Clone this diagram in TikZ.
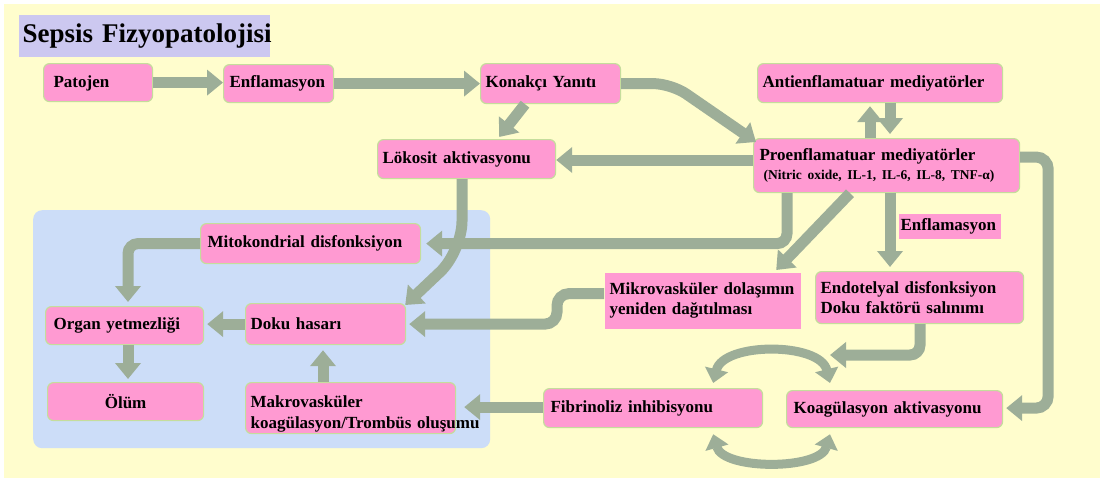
\documentclass[tikz,border=0pt]{standalone}
\usepackage{fontspec}
\setmainfont{Liberation Serif}
\usetikzlibrary{arrows.meta,calc}
\hyphenpenalty=10000
\exhyphenpenalty=10000
\frenchspacing
\definecolor{bgy}{HTML}{FFFDCD}
\definecolor{panelc}{HTML}{CCDDF8}
\definecolor{titlec}{HTML}{CCC8F0}
\definecolor{pinkc}{HTML}{FF9AD2}
\definecolor{arrc}{HTML}{9DAE98}
\definecolor{bord}{HTML}{C5DD9C}
\tikzset{
  box/.style={draw=bord, line width=1.2pt, fill=pinkc, rounded corners=6pt,
    anchor=north west, inner xsep=6pt, inner ysep=0pt, align=left,
    font=\fontsize{17}{20.5}\selectfont\bfseries\frenchspacing},
  sqbox/.style={box, draw=none, rounded corners=0pt},
  arr/.style={draw=arrc, line width=11pt, -{Triangle[width=25pt,length=16pt]}},
  arrtwo/.style={draw=arrc, line width=9pt, {Triangle[width=23pt,length=14pt]}-{Triangle[width=23pt,length=14pt]}}
}
\begin{document}
\begin{tikzpicture}[x=1pt,y=-1pt]
\useasboundingbox (0,0) rectangle (1107,482);
\fill[white] (0,0) rectangle (1107,482);
\fill[bgy] (4,4) rectangle (1100,478);
\node[fill=panelc, rounded corners=9pt, anchor=north west, minimum width=457pt, minimum height=238pt, inner sep=0pt] (panel) at (33,210) {};
\node[sqbox, fill=titlec, minimum width=251pt, minimum height=42pt, text width=243pt, inner xsep=4pt, font=\fontsize{27}{30}\selectfont\bfseries] (title) at (18,14) {\mbox{Sepsis Fizyopatolojisi}};

\node[box, minimum width=109pt, minimum height=38pt, text width=89pt, inner xsep=10pt] (pat) at (43,63) {\rule{0pt}{14pt}Patojen};
\node[box, minimum width=110pt, minimum height=38pt, text width=98pt] (enf) at (223,64) {Enflamasyon};
\node[box, minimum width=140pt, minimum height=40pt, text width=130pt, inner xsep=5pt] (kon) at (480,63) {\mbox{Konakçı Yanıtı}};
\node[box, minimum width=245pt, minimum height=39pt, text width=235pt, inner xsep=5pt] (anti) at (757,63) {\mbox{Antienflamatuar mediyatörler}};
\node[box, minimum width=178pt, minimum height=39pt, text width=168pt, inner xsep=5pt] (lok) at (377,139) {\mbox{Lökosit aktivasyonu}};
\node[box, minimum width=266pt, minimum height=54pt, text width=254pt] (pro) at (753,138) {\mbox{Proenflamatuar mediyatörler}\\[-1pt]\hspace*{4pt}{\fontsize{13.5}{16}\selectfont\mbox{(Nitric oxide, IL-1, IL-6, IL-8, TNF-α)}}};
\node[sqbox, minimum width=102pt, minimum height=25pt, text width=98pt, inner xsep=2pt] (enfl) at (898,213) {Enflamasyon};

\node[box, minimum width=220pt, minimum height=40pt, text width=206pt, inner xsep=7pt] (mito) at (200,223) {\mbox{Mitokondrial disfonksiyon}};
\node[box, minimum width=158pt, minimum height=38pt, text width=142pt, inner xsep=8pt] (organ) at (45,306) {\mbox{Organ yetmezliği}};
\node[box, minimum width=160pt, minimum height=41pt, text width=150pt, inner xsep=5pt] (doku) at (245,303) {\mbox{Doku hasarı}};
\node[box, minimum width=156pt, minimum height=38pt, text width=144pt, align=center] (olum) at (47,382) {Ölüm};
\node[box, minimum width=210pt, minimum height=51pt, text width=200pt, inner xsep=5pt] (makro) at (245,382) {\rule{0pt}{24pt}Makrovasküler\\\mbox{koagülasyon/Trombüs oluşumu}};
\node[sqbox, minimum width=196pt, minimum height=56pt, text width=186pt, inner xsep=5pt] (mikro) at (604,272) {\mbox{Mikrovasküler dolaşımın}\\\mbox{yeniden dağıtılması}};
\node[box, minimum width=208pt, minimum height=52pt, text width=198pt, inner xsep=5pt] (endo) at (815,271) {\mbox{Endotelyal disfonksiyon}\\\mbox{Doku faktörü salınımı}};
\node[box, minimum width=219pt, minimum height=39pt, text width=205pt, inner xsep=7pt] (fib) at (543,388) {\mbox{Fibrinoliz inhibisyonu}};
\node[box, minimum width=216pt, minimum height=37pt, text width=202pt, inner xsep=7pt] (koag) at (786,390) {\mbox{Koagülasyon aktivasyonu}};

% connectors
\draw[arr] (pat.east) -- (pat.east -| enf.west);
\draw[arr] (enf.east) -- (enf.east -| kon.west);
\draw[arr] ($(kon.south west)+(45,0)$) -- ($(lok.north east)+(-57,-2)$);
\draw[arr, rounded corners=18pt] (kon.east) -- ++(50,0) -- ($(pro.north west)+(3,4)$);
\draw[arr] ($(pro.north west)+(117,0)$) -- ($(anti.south west)+(113,3)$);
\draw[arr] ($(anti.south west)+(133,0)$) -- ($(pro.north west)+(137,-4)$);
\coordinate (p6) at ($(pro.north west)+(0,22)$);
\draw[arr] (p6) -- (p6 -| lok.east);
\draw[arr, rounded corners=10pt] ($(pro.south west)+(34,0)$) |- ($(mito.east)+(5,0)$);
\draw[arr] ($(pro.south west)+(97,0)$) -- ($(mikro.north east)+(-25,-2)$);
\draw[arr] ($(pro.south west)+(137,0)$) -- ($(endo.north west)+(75,-4)$);
\draw[arr, rounded corners=12pt] ($(pro.north east)+(0,19)$) -- ++(28,0) |- ($(koag.east)+(3,-1)$);
\draw[arr, rounded corners=30pt] ($(lok.south west)+(85,0)$) -- ++(0,72) -- ($(doku.north east)+(-1,2)$);
\draw[arr, rounded corners=10pt] (mito.west) -| ($(organ.north west)+(83,-4)$);
\draw[arr] (doku.west) -- ($(doku.west -| organ.east)+(3,0)$);
\draw[arr] ($(organ.south west)+(83,0)$) -- ($(olum.north west)+(81,-3)$);
\draw[arr] ($(makro.north west)+(78,0)$) -- ($(doku.south west)+(78,5)$);
\coordinate (m1) at ($(mikro.west)+(0,-7)$);
\draw[arr, rounded corners=12pt] (m1) -- ++(-47,0) |- ($(doku.east)+(3,0)$);
\draw[arr] ($(fib.west)+(0,-1)$) -- ($(makro.east)+(8,-1)$);
\draw[arr, rounded corners=10pt] ($(endo.south west)+(105,0)$) |- ($(koag.north west)+(44,-35)$);
\draw[arrtwo] ($(fib.north east)+(-50,-5)$) .. controls ($(fib.north east)+(-40,-46)$) and ($(koag.north west)+(34,-48)$) .. ($(koag.north west)+(44,-7)$);
\draw[arrtwo] ($(fib.south east)+(-50,6)$) .. controls ($(fib.south east)+(-40,42)$) and ($(koag.south west)+(34,42)$) .. ($(koag.south west)+(44,6)$);
\end{tikzpicture}
\end{document}
